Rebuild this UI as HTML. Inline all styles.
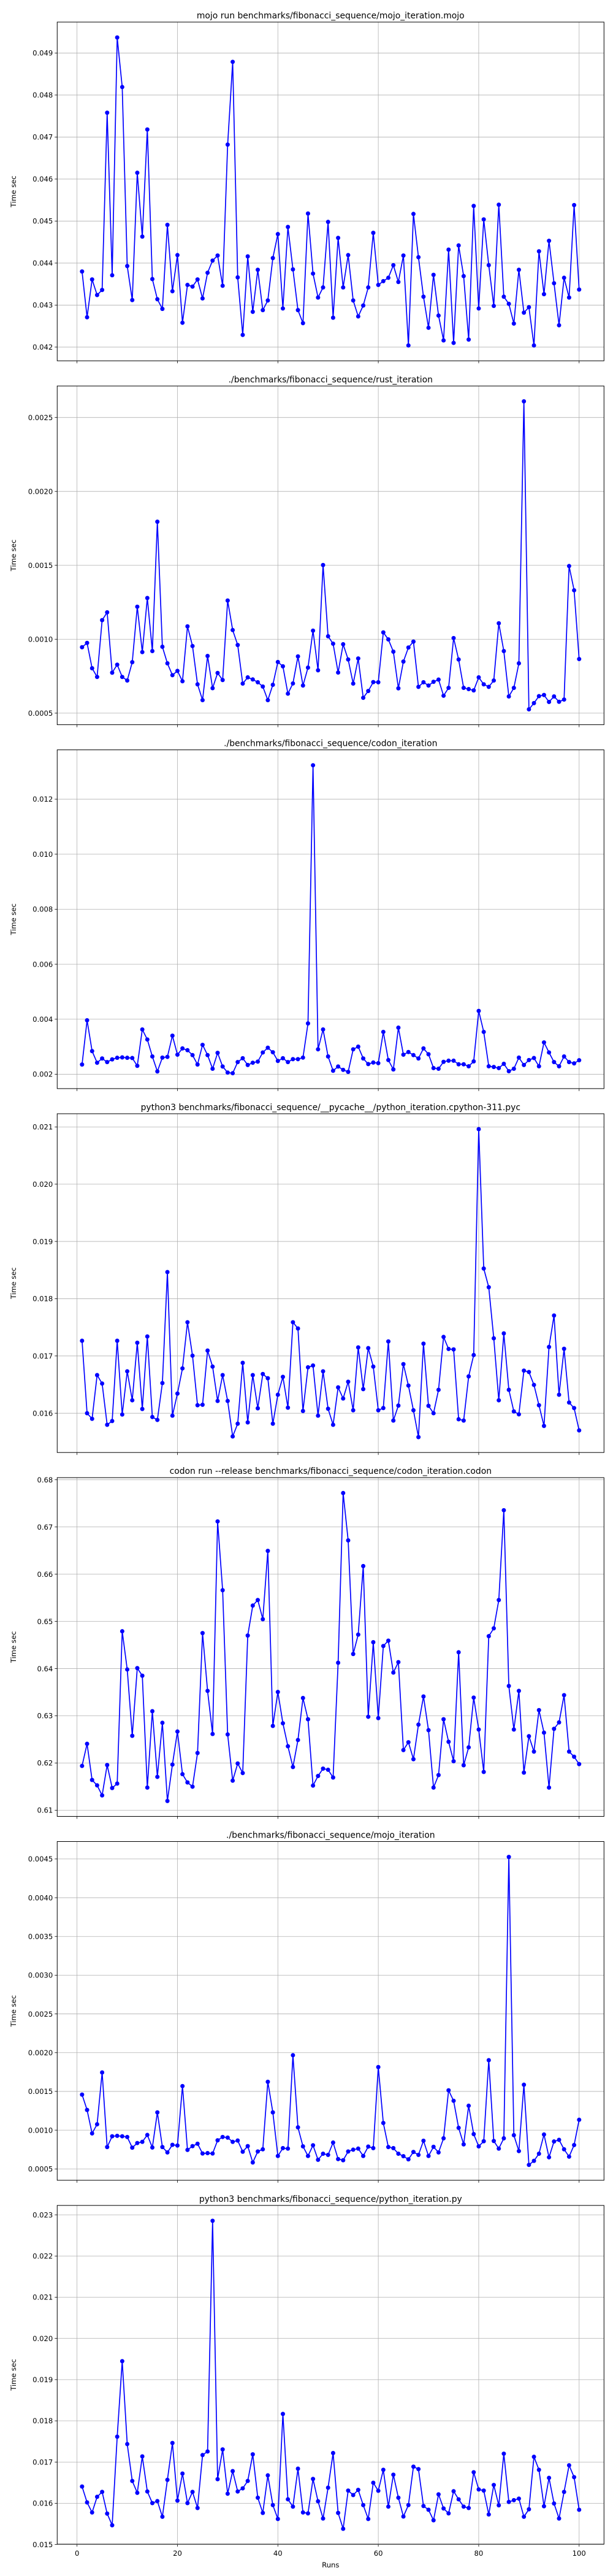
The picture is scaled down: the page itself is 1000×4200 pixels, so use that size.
<!DOCTYPE html>
<html><head><meta charset="utf-8"><style>
html,body{margin:0;padding:0;background:#fff;}
svg{display:block;font-family:"DejaVu Sans","Liberation Sans",sans-serif;}
</style></head><body>
<svg id="fig" width="1000" height="4200" viewBox="0 0 1000 4200" xmlns="http://www.w3.org/2000/svg"></svg>
<script>
const titles = [
"mojo run benchmarks/fibonacci_sequence/mojo_iteration.mojo",
"./benchmarks/fibonacci_sequence/rust_iteration",
"./benchmarks/fibonacci_sequence/codon_iteration",
"python3 benchmarks/fibonacci_sequence/__pycache__/python_iteration.cpython-311.pyc",
"codon run --release benchmarks/fibonacci_sequence/codon_iteration.codon",
"./benchmarks/fibonacci_sequence/mojo_iteration",
"python3 benchmarks/fibonacci_sequence/python_iteration.py"];
const xTicks = [0,20,40,60,80,100];
const yTicks1 = [0.042,0.043,0.044,0.045,0.046,0.047,0.048,0.049];
const yTicks2 = [0.0005,0.0010,0.0015,0.0020,0.0025];
const yTicks3 = [0.002,0.004,0.006,0.008,0.010,0.012];
const yTicks4 = [0.016,0.017,0.018,0.019,0.020,0.021];
const yTicks5 = [0.61,0.62,0.63,0.64,0.65,0.66,0.67,0.68];
const yTicks6 = [0.0005,0.0010,0.0015,0.0020,0.0025,0.0030,0.0035,0.0040,0.0045];
const yTicks7 = [0.015,0.016,0.017,0.018,0.019,0.020,0.021,0.022,0.023];
const yDigits = [3,4,3,3,2,4,3];
const mojoRun = [0.04380,0.04271,0.04361,0.04324,0.04336,0.04758,0.04371,0.04937,0.04819,0.04393,0.04312,0.04615,0.04463,0.04718,0.04362,0.04314,0.04291,0.04491,0.04333,0.04419,0.04258,0.04348,0.04344,0.04361,0.04316,0.04377,0.04406,0.04418,0.04346,0.04682,0.04879,0.04366,0.04229,0.04416,0.04284,0.04384,0.04288,0.04311,0.04412,0.04469,0.04292,0.04486,0.04385,0.04288,0.04257,0.04518,0.04375,0.04318,0.04342,0.04498,0.04270,0.04460,0.04342,0.04419,0.04311,0.04273,0.04299,0.04342,0.04472,0.04348,0.04357,0.04365,0.04395,0.04355,0.04418,0.04204,0.04517,0.04414,0.04320,0.04246,0.04372,0.04275,0.04216,0.04432,0.04210,0.04442,0.04369,0.04218,0.04536,0.04292,0.04504,0.04395,0.04298,0.04539,0.04320,0.04303,0.04256,0.04384,0.04282,0.04295,0.04204,0.04428,0.04326,0.04453,0.04352,0.04252,0.04365,0.04318,0.04538,0.04337];
const rustIter = [0.000946,0.000975,0.000804,0.000745,0.001129,0.001182,0.000774,0.000828,0.000745,0.000721,0.000845,0.001220,0.000913,0.001279,0.000920,0.001795,0.000949,0.000837,0.000757,0.000786,0.000716,0.001087,0.000954,0.000695,0.000588,0.000887,0.000669,0.000772,0.000724,0.001262,0.001062,0.000961,0.000700,0.000742,0.000728,0.000709,0.000680,0.000588,0.000692,0.000846,0.000817,0.000632,0.000701,0.000884,0.000687,0.000808,0.001058,0.000790,0.001502,0.001020,0.000970,0.000775,0.000966,0.000863,0.000700,0.000870,0.000604,0.000650,0.000710,0.000709,0.001046,0.000999,0.000916,0.000668,0.000849,0.000944,0.000984,0.000678,0.000709,0.000687,0.000712,0.000727,0.000618,0.000671,0.001008,0.000863,0.000671,0.000663,0.000654,0.000742,0.000695,0.000678,0.000721,0.001108,0.000920,0.000613,0.000671,0.000837,0.002609,0.000526,0.000568,0.000615,0.000623,0.000576,0.000613,0.000577,0.000592,0.001495,0.001331,0.000866];
const codonIter = [0.002353,0.003961,0.002841,0.002418,0.002573,0.002443,0.002540,0.002597,0.002613,0.002597,0.002589,0.002305,0.003628,0.003263,0.002646,0.002102,0.002605,0.002630,0.003401,0.002711,0.002938,0.002873,0.002695,0.002353,0.003068,0.002695,0.002199,0.002776,0.002280,0.002061,0.002037,0.002443,0.002581,0.002337,0.002418,0.002459,0.002792,0.002963,0.002800,0.002483,0.002581,0.002443,0.002548,0.002548,0.002605,0.003847,0.013234,0.002906,0.003628,0.002646,0.002126,0.002280,0.002159,0.002086,0.002906,0.003003,0.002573,0.002369,0.002426,0.002402,0.003539,0.002516,0.002175,0.003693,0.002711,0.002808,0.002695,0.002573,0.002938,0.002727,0.002223,0.002199,0.002451,0.002491,0.002491,0.002362,0.002362,0.002288,0.002467,0.004302,0.003539,0.002288,0.002264,0.002223,0.002378,0.002110,0.002199,0.002605,0.002337,0.002516,0.002589,0.002288,0.003157,0.002792,0.002443,0.002288,0.002646,0.002443,0.002394,0.002508];
const pycIter = [0.017266,0.016000,0.015903,0.016666,0.016518,0.015798,0.015864,0.017266,0.015977,0.016732,0.016226,0.017231,0.016074,0.017340,0.015934,0.015883,0.016526,0.018465,0.015957,0.016343,0.016783,0.017589,0.017005,0.016140,0.016148,0.017094,0.016814,0.016214,0.016666,0.016214,0.015595,0.015817,0.016880,0.015840,0.016666,0.016086,0.016685,0.016611,0.015817,0.016323,0.016635,0.016097,0.017589,0.017480,0.016039,0.016802,0.016833,0.015957,0.016732,0.016078,0.015798,0.016452,0.016257,0.016549,0.016051,0.017149,0.016421,0.017137,0.016814,0.016051,0.016090,0.017254,0.015872,0.016133,0.016857,0.016483,0.016051,0.015583,0.017215,0.016129,0.016000,0.016409,0.017332,0.017122,0.017114,0.015895,0.015872,0.016643,0.017016,0.020961,0.018527,0.018200,0.017308,0.016226,0.017394,0.016409,0.016031,0.015981,0.016744,0.016720,0.016495,0.016140,0.015778,0.017157,0.017706,0.016323,0.017125,0.016187,0.016090,0.015700];
const codonRun = [0.61939,0.62407,0.61641,0.61527,0.61315,0.61958,0.61471,0.61565,0.64791,0.63982,0.62577,0.64011,0.63850,0.61480,0.63098,0.61707,0.62852,0.61196,0.61967,0.62667,0.61764,0.61589,0.61499,0.62213,0.64753,0.63528,0.62615,0.67118,0.65661,0.62606,0.61627,0.61991,0.61788,0.64701,0.65335,0.65453,0.65047,0.66494,0.62786,0.63505,0.62842,0.62355,0.61915,0.62488,0.63377,0.62927,0.61523,0.61726,0.61882,0.61858,0.61693,0.64124,0.67719,0.66716,0.64309,0.64720,0.66172,0.62980,0.64559,0.62951,0.64479,0.64592,0.63916,0.64138,0.62275,0.62440,0.62081,0.62814,0.63410,0.62696,0.61480,0.61745,0.62927,0.62450,0.62038,0.64346,0.61953,0.62332,0.63386,0.62710,0.61811,0.64687,0.64853,0.65453,0.67355,0.63632,0.62710,0.63528,0.61797,0.62568,0.62242,0.63121,0.62644,0.61480,0.62724,0.62861,0.63438,0.62242,0.62133,0.61977];
const mojoIter = [0.001459,0.001261,0.000958,0.001076,0.001745,0.000782,0.000921,0.000927,0.000921,0.000912,0.000774,0.000834,0.000849,0.000938,0.000776,0.001229,0.000782,0.000713,0.000811,0.000802,0.001569,0.000745,0.000794,0.000825,0.000699,0.000704,0.000699,0.000869,0.000912,0.000904,0.000849,0.000866,0.000722,0.000794,0.000583,0.000725,0.000753,0.001624,0.001229,0.000667,0.000768,0.000762,0.001967,0.001036,0.000791,0.000667,0.000805,0.000618,0.000696,0.000681,0.000840,0.000627,0.000612,0.000725,0.000748,0.000762,0.000667,0.000788,0.000768,0.001814,0.001093,0.000782,0.000768,0.000696,0.000664,0.000624,0.000719,0.000681,0.000863,0.000667,0.000785,0.000713,0.000895,0.001514,0.001379,0.001030,0.000817,0.001315,0.000949,0.000791,0.000857,0.001903,0.000860,0.000762,0.000895,0.004526,0.000935,0.000730,0.001586,0.000552,0.000604,0.000696,0.000944,0.000650,0.000854,0.000875,0.000753,0.000658,0.000808,0.001134];
const pyIter = [0.016406,0.016021,0.015777,0.016156,0.016276,0.015749,0.015467,0.017615,0.019448,0.017436,0.016541,0.016254,0.017138,0.016286,0.016004,0.016053,0.015673,0.016568,0.017463,0.016064,0.016720,0.016004,0.016276,0.015885,0.017170,0.017257,0.022854,0.016585,0.017306,0.016232,0.016780,0.016286,0.016362,0.016541,0.017187,0.016134,0.015766,0.016677,0.015956,0.015619,0.018168,0.016096,0.015918,0.016840,0.015777,0.015755,0.016590,0.016048,0.015630,0.016378,0.017219,0.015766,0.015381,0.016308,0.016200,0.016324,0.015956,0.015619,0.016498,0.016303,0.016812,0.015918,0.016693,0.016134,0.015679,0.015956,0.016888,0.016829,0.015934,0.015842,0.015587,0.016216,0.015874,0.015755,0.016292,0.016096,0.015918,0.015885,0.016753,0.016335,0.016308,0.015728,0.016444,0.015950,0.017203,0.016032,0.016075,0.016113,0.015673,0.015853,0.017127,0.016812,0.015928,0.016617,0.015994,0.015630,0.016276,0.016921,0.016633,0.015842];

const seriesList = [mojoRun,rustIter,codonIter,pycIter,codonRun,mojoIter,pyIter];
const tickList = [yTicks1,yTicks2,yTicks3,yTicks4,yTicks5,yTicks6,yTicks7];
const NS = "http://www.w3.org/2000/svg";
const svg = document.getElementById('fig');
const L = 93.3, W = 892, H = 552.3, TOP0 = 36, PITCH = 593.3;
const XMIN = -3.95, XMAX = 104.95;
function mk(tag, attrs, parent){ const e=document.createElementNS(NS,tag); for(const k in attrs) e.setAttribute(k,attrs[k]); (parent||svg).appendChild(e); return e; }

seriesList.forEach((data, p) => {
  const top = TOP0 + p*PITCH;
  const g = mk('g',{});
  
  
  const mn = Math.min(...data), mx = Math.max(...data), r = mx - mn;
  const y0 = mn - 0.05*r, y1 = mx + 0.05*r;
  const xs = v => L + (v - XMIN)/(XMAX - XMIN)*W;
  const ys = v => top + H - (v - y0)/(y1 - y0)*H;
  // grid + ticks
  xTicks.forEach(t => {
    const x = xs(t);
    const gl = mk('line',{x1:x,x2:x,y1:top,y2:top+H,stroke:'#b0b0b0','stroke-width':0.8},g);
    
    
    mk('line',{x1:x,x2:x,y1:top+H,y2:top+H+4,stroke:'#000','stroke-width':0.8},g);
    if (p === seriesList.length-1) {
      const tl = mk('text',{x:x,y:top+H+19,'text-anchor':'middle','font-size':11.6,fill:'#000'},g);
      tl.textContent = t;
      
      
    }
  });
  tickList[p].forEach(t => {
    const y = ys(t);
    if (y < top - 0.5 || y > top + H + 0.5) return;
    const gl = mk('line',{x1:L,x2:L+W,y1:y,y2:y,stroke:'#b0b0b0','stroke-width':0.8},g);
    
    
    mk('line',{x1:L-4,x2:L,y1:y,y2:y,stroke:'#000','stroke-width':0.8},g);
    const tl = mk('text',{x:L-7,y:y+4.2,'text-anchor':'end','font-size':11.6,fill:'#000'},g);
    tl.textContent = t.toFixed(yDigits[p]);
    
    
  });
  // series line
  const pts = data.map((v,i) => xs(i+1).toFixed(2)+','+ys(v).toFixed(2)).join(' ');
  const line = mk('polyline',{points:pts,fill:'none',stroke:'#0000ff','stroke-width':1.7,'stroke-linejoin':'round'},g);
  
  
  data.forEach((v,i) => {
    const c = mk('circle',{cx:xs(i+1),cy:ys(v),r:3.5,fill:'#0000ff'},g);
    
    
  });
  const frame = mk('rect',{x:L,y:top,width:W,height:H,fill:'none',stroke:'#000','stroke-width':1},g);
  
  
  const tt = mk('text',{x:L+W/2,y:top-6,'text-anchor':'middle','font-size':13.9,fill:'#000'},g);
  tt.textContent = titles[p];
  
  
  const yl = mk('text',{x:0,y:0,'text-anchor':'middle','font-size':11.6,fill:'#000',transform:'translate(26,'+(top+H/2)+') rotate(-90)'},g);
  yl.textContent = 'Time sec';
  
  
});
const xl = mk('text',{x:L+W/2,y:4186,'text-anchor':'middle','font-size':11.6,fill:'#000'});
xl.textContent = 'Runs';


</script>
</body></html>
